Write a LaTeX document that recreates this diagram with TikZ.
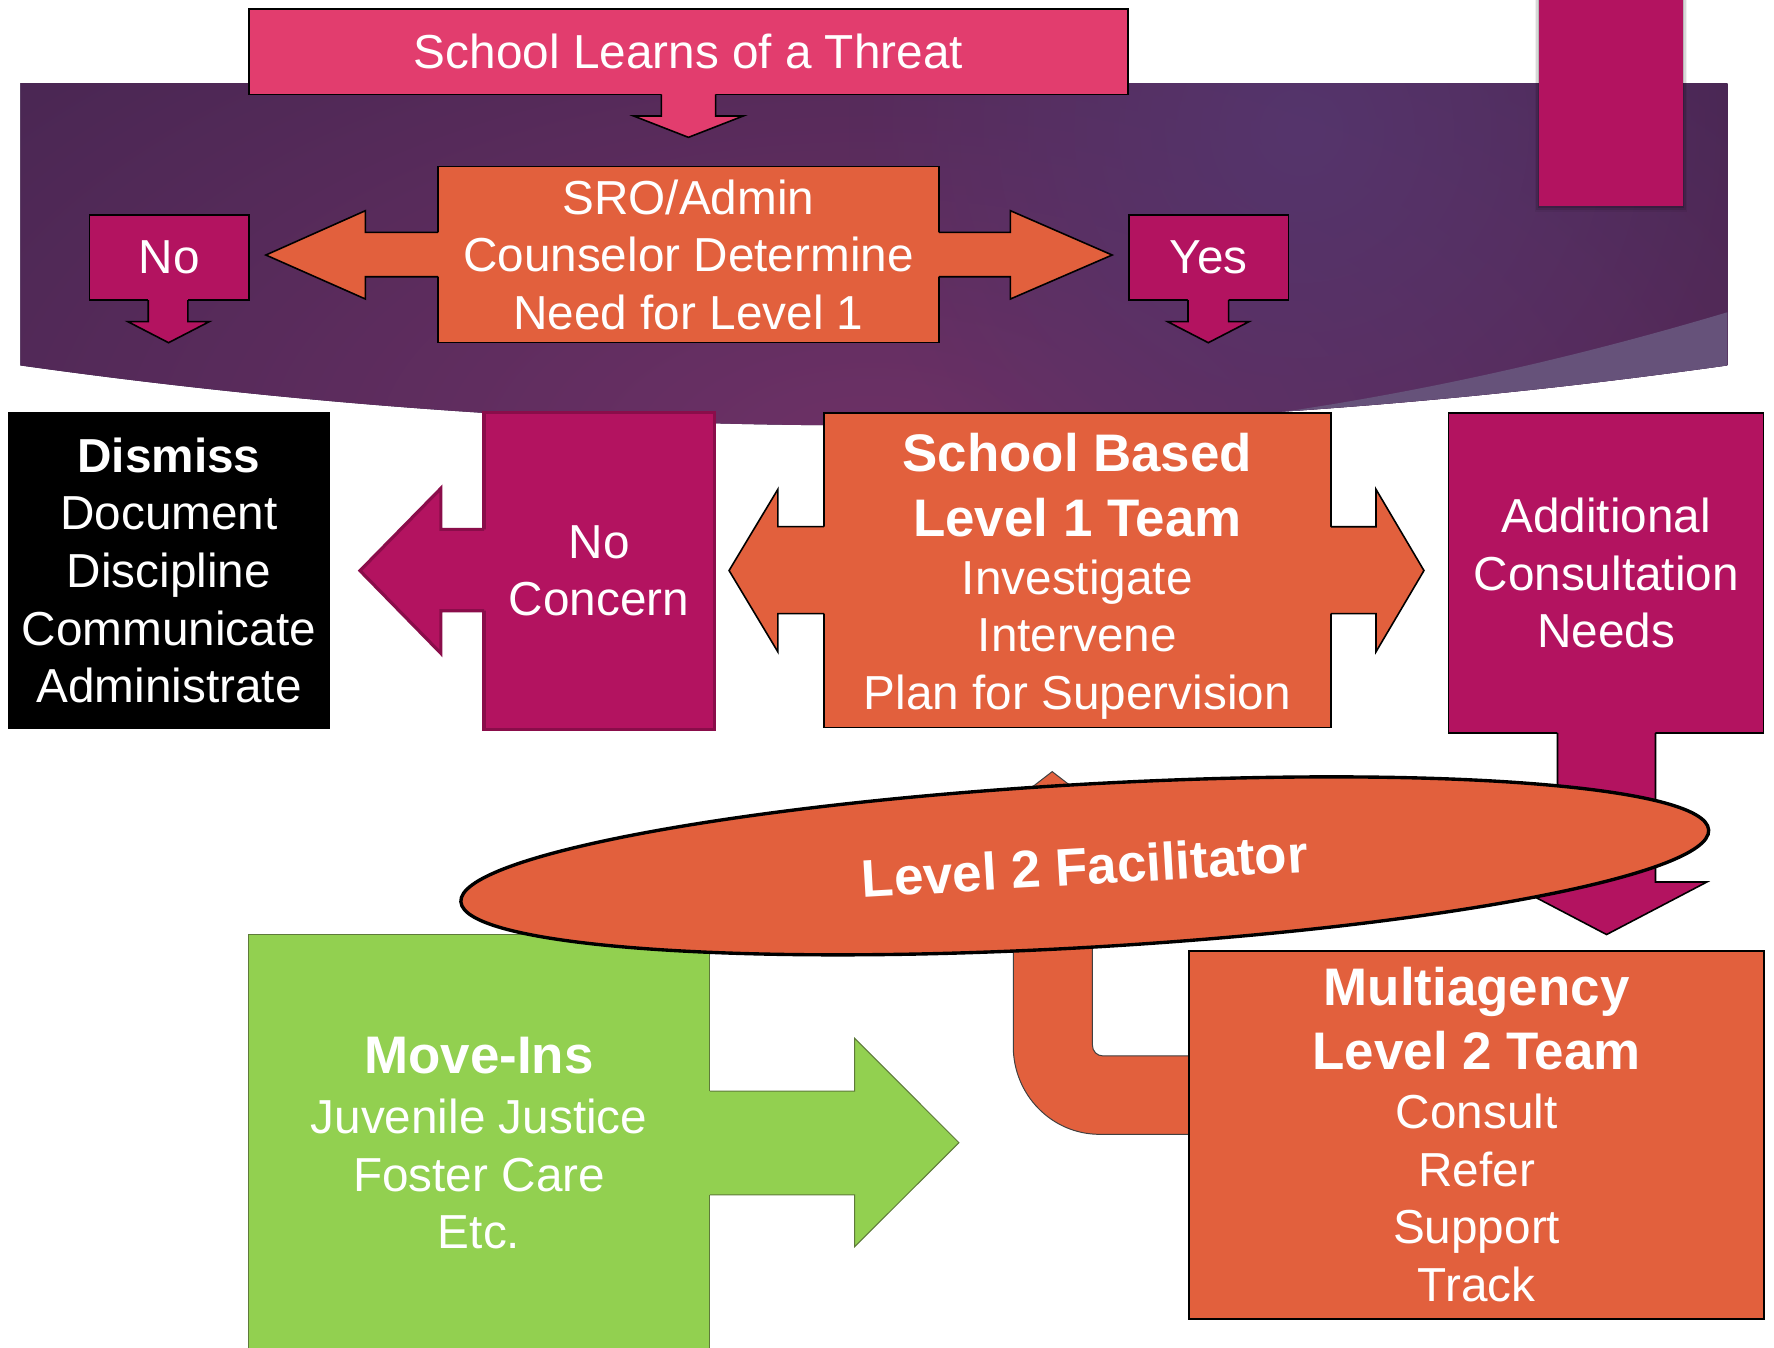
\documentclass[tikz,border=0pt]{standalone}
\usepackage{fontspec}
\setmainfont{Liberation Sans}
\usetikzlibrary{shapes.geometric,fadings}
\definecolor{magC}{HTML}{B31360}
\definecolor{oraC}{HTML}{E2603D}
\definecolor{pinkC}{HTML}{E23D6E}
\definecolor{grnC}{HTML}{92D050}
\definecolor{grnB}{HTML}{5E7A3A}
\definecolor{ncB}{HTML}{8A0D4A}
\definecolor{banIn}{HTML}{6D3166}
\definecolor{banOut}{HTML}{2F1F45}
\definecolor{hiC}{HTML}{55356C}
\definecolor{curlC}{HTML}{66527A}
\tikzfading[name=hifade, inner color=transparent!0, outer color=transparent!100]
\newcommand\bigfont{\fontsize{26.6}{32}\selectfont\bfseries}
\def\bannerpath{(18,73.4) -- (1526.7,73.4) -- (1526.7,323) .. controls (1024,393.7) and (521,393.7) .. (18,323) -- cycle}
\begin{document}
\begin{tikzpicture}[x=0.02cm,y=-0.02cm,
  txt/.style={text=white, align=center, font=\fontsize{24}{29}\selectfont, inner sep=0pt, outer sep=0pt},
  boxO/.style={txt, fill=oraC, draw=black, line width=0.8pt},
  boxM/.style={txt, fill=magC, draw=black, line width=0.8pt},
  edge/.style={draw=black, line width=0.8pt, line join=miter}
]
\useasboundingbox (0,0) rectangle (1568,1191);

% purple banner
\fill[banOut] \bannerpath;
\begin{scope}
  \clip \bannerpath;
  \shade[inner color=banIn, outer color=banOut] (770,400) ellipse [x radius=35cm, y radius=18cm];
  \fill[hiC, path fading=hifade] (1150,115) circle [radius=8cm];
  \fill[curlC] (1138,363.5) .. controls (1268,344) and (1396,315) .. (1526.7,276) -- (1526.7,323) .. controls (1398.1,341.1) and (1268.5,354.6) .. (1138,363.5) -- cycle;
\end{scope}

% top right bar with shadow
\foreach \s/\o in {4/0.06, 2.5/0.1, 1.2/0.15}
  \fill[black, opacity=\o] (1360.3-\s,-5) rectangle (1487.5+\s,181.8+1.5*\s);
\fill[magC] (1360.3,-5) rectangle (1487.5,181.8);

% School learns of a threat
\node[txt, fill=pinkC, draw=black, line width=0.8pt, minimum width=15.54cm, minimum height=1.508cm] (threat) at (608.5,45.7) {School Learns of a Threat};
\fill[pinkC] (584.5,82) -- (584.5,102.5) -- (560,102.5) -- (608.5,121.4) -- (657,102.5) -- (632.5,102.5) -- (632.5,82) -- cycle;
\draw[edge] (threat.south -| 584.5,0) -- (584.5,102.5) -- (560,102.5) -- (608.5,121.4) -- (657,102.5) -- (632.5,102.5) -- (threat.south -| 632.5,0);

% SRO / Admin
\node[boxO, minimum width=8.86cm, minimum height=3.112cm] (sro) at (608.5,225.1) {SRO/Admin\\Counselor Determine\\Need for Level 1};
\fill[oraC] (829,205.4) -- (893,205.4) -- (893,186.2) -- (983,225.4) -- (893,264.3) -- (893,244.6) -- (829,244.6) -- cycle;
\draw[edge] (sro.east |- 0,205.4) -- (893,205.4) -- (893,186.2) -- (983,225.4) -- (893,264.3) -- (893,244.6) -- (sro.east |- 0,244.6);
\fill[oraC] (388.5,205.4) -- (323,205.4) -- (323,186.2) -- (235,225.4) -- (323,264.3) -- (323,244.6) -- (388.5,244.6) -- cycle;
\draw[edge] (sro.west |- 0,205.4) -- (323,205.4) -- (323,186.2) -- (235,225.4) -- (323,264.3) -- (323,244.6) -- (sro.west |- 0,244.6);

% No
\node[boxM, minimum width=2.82cm, minimum height=1.504cm] (no) at (149.5,227.6) {No};
\fill[magC] (131,264) -- (131,284.3) -- (113,284.3) -- (149,302.9) -- (185,284.3) -- (166,284.3) -- (166,264) -- cycle;
\draw[edge] (no.south -| 131,0) -- (131,284.3) -- (113,284.3) -- (149,302.9) -- (185,284.3) -- (166,284.3) -- (no.south -| 166,0);

% Yes
\node[boxM, minimum width=2.82cm, minimum height=1.504cm] (yes) at (1068.5,227.6) {Yes};
\fill[magC] (1050,264) -- (1050,284.3) -- (1032,284.3) -- (1068,302.9) -- (1104,284.3) -- (1086,284.3) -- (1086,264) -- cycle;
\draw[edge] (yes.south -| 1050,0) -- (1050,284.3) -- (1032,284.3) -- (1068,302.9) -- (1104,284.3) -- (1086,284.3) -- (yes.south -| 1086,0);

% Dismiss
\node[txt, fill=black, minimum width=5.692cm, minimum height=5.608cm] (dismiss) at (149.4,504.1) {{\bfseries Dismiss}\\Document\\Discipline\\Communicate\\Administrate};

% No concern
\node[txt, fill=magC, draw=ncB, line width=1.6pt, minimum width=4.068cm, minimum height=5.604cm] (nc) at (529.5,504.5) {No\\Concern};
\fill[magC] (429.8,467.9) -- (389.7,467.9) -- (389.7,431.6) -- (318.2,504.4) -- (389.7,577.5) -- (389.7,539.8) -- (429.8,539.8) -- cycle;
\draw[draw=ncB, line width=1.6pt, line join=miter] (nc.west |- 0,467.9) -- (389.7,467.9) -- (389.7,431.6) -- (318.2,504.4) -- (389.7,577.5) -- (389.7,539.8) -- (nc.west |- 0,539.8);

% School based level 1 team
\node[boxO, minimum width=8.964cm, minimum height=5.556cm] (sb) at (952.2,504.1) {{\bigfont\rule{0pt}{0.894cm}School Based}\\[3.3pt]{\bigfont Level 1 Team}\\[0.2pt]Investigate\\Intervene\\Plan for Supervision};
\fill[oraC] (1175,465.6) -- (1216.2,465.6) -- (1216.2,432.5) -- (1258.6,504.3) -- (1216.2,576.1) -- (1216.2,542.3) -- (1175,542.3) -- cycle;
\draw[edge] (sb.east |- 0,465.6) -- (1216.2,465.6) -- (1216.2,432.5) -- (1258.6,504.3) -- (1216.2,576.1) -- (1216.2,542.3) -- (sb.east |- 0,542.3);
\fill[oraC] (729.5,465.5) -- (687.5,465.5) -- (687.5,432.5) -- (644.4,504.3) -- (687.5,576.1) -- (687.5,542.4) -- (729.5,542.4) -- cycle;
\draw[edge] (sb.west |- 0,465.5) -- (687.5,465.5) -- (687.5,432.5) -- (644.4,504.3) -- (687.5,576.1) -- (687.5,542.4) -- (sb.west |- 0,542.4);

% Additional consultation needs
\node[boxM, minimum width=5.57cm, minimum height=5.658cm] (addl) at (1419.65,506.65) {Additional\\Consultation\\Needs};
\fill[magC] (1376.6,646.7) -- (1376.6,779.6) -- (1331.4,779.6) -- (1420,826) -- (1508.6,779.6) -- (1463.2,779.6) -- (1463.2,646.7) -- cycle;
\draw[edge] (addl.south -| 1376.6,0) -- (1376.6,779.6) -- (1331.4,779.6) -- (1420,826) -- (1508.6,779.6) -- (1463.2,779.6) -- (addl.south -| 1463.2,0);

% bent arrow from level 2 team up to facilitator
\filldraw[fill=oraC, draw=black!75, line width=0.5pt] (1052,933.3) -- (975,933.3) .. controls (969.5,933.3) and (965.5,929.3) .. (965.5,923.3) -- (965.5,736) -- (1000,736) -- (930,682) -- (860,736) -- (895.6,736) -- (895.6,925) .. controls (895.6,967.5) and (929.5,1002.6) .. (972,1002.6) -- (1052,1002.6) -- cycle;

% Move-ins
\node[txt, fill=grnC, draw=grnB, line width=0.5pt, minimum width=8.162cm, minimum height=7.384cm] (mi) at (423.45,1010.4) {{\bigfont Move-Ins}\\[1.2pt]Juvenile Justice\\Foster Care\\Etc.};
\fill[grnC] (626.5,964.3) -- (755.4,964.3) -- (755.4,917.7) -- (847.6,1010) -- (755.4,1101.9) -- (755.4,1056.2) -- (626.5,1056.2) -- cycle;
\draw[draw=grnB, line width=0.5pt, line join=miter] (mi.east |- 0,964.3) -- (755.4,964.3) -- (755.4,917.7) -- (847.6,1010) -- (755.4,1101.9) -- (755.4,1056.2) -- (mi.east |- 0,1056.2);

% Level 2 facilitator
\node[ellipse, draw=black, line width=1.7pt, fill=oraC, minimum width=22.1cm, minimum height=2.884cm, inner sep=0pt, rotate=3.29, text=white, font=\bigfont] (fac) at (958.8,765.3) {Level 2 Facilitator};

% Multiagency level 2 team
\node[boxO, line width=0.9pt, minimum width=10.17cm, minimum height=6.498cm] (multi) at (1305.15,1003.05) {{\bigfont Multiagency}\\[3pt]{\bigfont Level 2 Team}\\[0.7pt]Consult\\Refer\\Support\\Track};
\end{tikzpicture}
\end{document}
